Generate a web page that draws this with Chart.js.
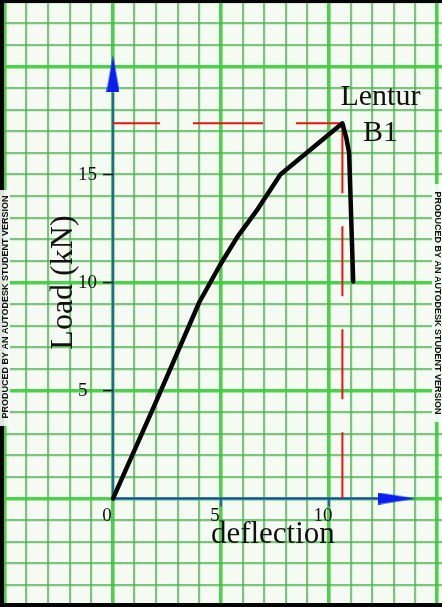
<!DOCTYPE html>
<html>
<head>
<meta charset="utf-8">
<script src="https://cdn.jsdelivr.net/npm/chart.js@4/dist/chart.umd.min.js"></script>
<style>
  html, body { margin: 0; padding: 0; background: #ffffff; overflow: hidden; }
  canvas { display: block; }
</style>
</head>
<body>
<canvas id="chart" width="442" height="607"></canvas>
<script>
// Load–deflection record of beam B1 in flexure
const deflection = [0, 2.0, 4.0, 4.95, 5.75, 6.7, 7.75, 10.62, 10.8, 10.93, 11.12];
const load       = [0, 4.5, 9.1, 10.8, 12.1, 13.4, 15.0, 17.37, 16.7, 16.0, 10.05];

// Labelled ticks
const xTickLabels = [0, 5, 10];
const yTickLabels = [5, 10, 15];

// Visible extent of the graph paper, in data units
const xPaper = [-5.23, 15.23];
const yPaper = [-5.02, 23.08];

// Heavier printed lines of the graph paper
const heavyColumns = [-5, 0, 5, 10, 15];
const heavyRows = [0, 5, 10, 20];

// Where the drawn axes stop and their arrowheads sit
const xAxisEnd = 12.27, xArrowAt = 13.15;
const yAxisEnd = 18.8,  yArrowAt = 19.68;

// Peak of the curve, marked by the red guide lines
const peakIndex = load.indexOf(Math.max(...load));
const peakDeflection = deflection[peakIndex];
const peakLoad = load[peakIndex];

const curve = deflection.map((d, i) => ({ x: d, y: load[i] }));

function arrowHead(w, h, dir) {
  const c = document.createElement('canvas');
  c.width = w; c.height = h;
  const g = c.getContext('2d');
  g.fillStyle = '#0b1ef0';
  g.beginPath();
  if (dir === 'up') { g.moveTo(w / 2, 0); g.lineTo(w, h); g.lineTo(0, h); }
  else { g.moveTo(w, h / 2); g.lineTo(0, 0); g.lineTo(0, h); }
  g.closePath();
  g.fill();
  return c;
}

function integerTicks(scale) {
  const ticks = [];
  for (let v = Math.ceil(scale.min); v <= Math.floor(scale.max); v++) ticks.push({ value: v });
  scale.ticks = ticks;
}
const paperLine = heavy => ({
  color: ctx => (ctx.tick && heavy.includes(ctx.tick.value)) ? 'rgba(62,204,62,0.92)' : 'rgba(78,176,78,0.72)',
  lineWidth: ctx => (ctx.tick && heavy.includes(ctx.tick.value)) ? 3.6 : 2.2,
  drawTicks: false
});

const paper = {
  id: 'paper',
  beforeDraw(chart) {
    const { ctx, width, height } = chart;
    ctx.save();
    ctx.fillStyle = '#f5fbf3';
    ctx.fillRect(0, 0, width, height);
    ctx.restore();
  },
  afterDraw(chart) {
    const { ctx, width, height } = chart;
    const xs = chart.scales.x, ys = chart.scales.y;
    const x0 = xs.getPixelForValue(0), y0 = ys.getPixelForValue(0);
    ctx.save();

    // tick marks
    ctx.lineWidth = 1.5;
    ctx.strokeStyle = '#111';
    yTickLabels.forEach(v => {
      const y = ys.getPixelForValue(v);
      ctx.beginPath(); ctx.moveTo(x0 - 10, y); ctx.lineTo(x0, y); ctx.stroke();
    });
    ctx.strokeStyle = '#1d3fc0';
    xTickLabels.filter(v => v !== 0).forEach(v => {
      const x = xs.getPixelForValue(v);
      ctx.beginPath(); ctx.moveTo(x, y0); ctx.lineTo(x, y0 + 8); ctx.stroke();
    });

    // tick labels
    ctx.fillStyle = '#111';
    ctx.font = '19px "Liberation Serif", "Times New Roman", serif';
    ctx.textBaseline = 'middle';
    ctx.textAlign = 'left';
    yTickLabels.forEach(v => ctx.fillText(String(v), x0 - 35, ys.getPixelForValue(v)));
    ctx.textAlign = 'center';
    xTickLabels.forEach(v => ctx.fillText(String(v), xs.getPixelForValue(v) - 6, y0 + 17));

    // axis titles
    ctx.textBaseline = 'alphabetic';
    ctx.font = '31px "Liberation Serif", "Times New Roman", serif';
    ctx.fillText('deflection', xs.getPixelForValue(7.4), y0 + 44);
    ctx.save();
    ctx.translate(x0 - 41, ys.getPixelForValue(10));
    ctx.rotate(-Math.PI / 2);
    ctx.font = '32px "Liberation Serif", "Times New Roman", serif';
    ctx.fillText('Load (kN)', 0, 0);
    ctx.restore();

    // curve label beside the peak
    const px = xs.getPixelForValue(peakDeflection), py = ys.getPixelForValue(peakLoad);
    ctx.font = '30px "Liberation Serif", "Times New Roman", serif';
    ctx.fillText('Lentur', px + 38, py - 18);
    ctx.fillText('B1', px + 38, py + 18);

    // frame
    ctx.fillStyle = '#050505';
    ctx.fillRect(0, 0, width, 3);
    ctx.fillRect(0, 0, 4, height);
    ctx.fillRect(0, height - 4, width, 4);

    // plot stamps along both edges
    const stamp = 'PRODUCED BY AN AUTODESK STUDENT VERSION';
    ctx.font = 'bold 9px "Liberation Sans", Arial, sans-serif';
    ctx.textAlign = 'center';
    ctx.textBaseline = 'middle';
    ctx.fillStyle = 'rgba(250,253,249,0.9)';
    ctx.fillRect(0, 190, 10, 236);
    ctx.fillRect(432, 184, 10, 238);
    ctx.fillStyle = '#111';
    ctx.save();
    ctx.translate(5.5, 307);
    ctx.rotate(-Math.PI / 2);
    ctx.fillText(stamp, 0, 0, 232);
    ctx.restore();
    ctx.save();
    ctx.translate(437, 303);
    ctx.rotate(Math.PI / 2);
    ctx.fillText(stamp, 0, 0, 234);
    ctx.restore();

    ctx.restore();
  }
};

new Chart(document.getElementById('chart'), {
  type: 'scatter',
  data: {
    datasets: [
      {
        label: 'Lentur B1',
        data: curve,
        showLine: true,
        borderColor: '#050505',
        borderWidth: 4.5,
        borderCapStyle: 'round',
        borderJoinStyle: 'round',
        tension: 0,
        pointRadius: 0,
        order: 0
      },
      {
        data: [{ x: 0, y: peakLoad }, { x: peakDeflection, y: peakLoad }],
        showLine: true,
        borderColor: '#e8140f',
        borderWidth: 2,
        borderDash: [70, 33],
        borderDashOffset: 23,
        pointRadius: 0,
        order: 1
      },
      {
        data: [{ x: peakDeflection, y: peakLoad }, { x: peakDeflection, y: 0 }],
        showLine: true,
        borderColor: '#e8140f',
        borderWidth: 2,
        borderDash: [70, 33],
        pointRadius: 0,
        order: 1
      },
      {
        data: [{ x: 0, y: 0 }, { x: xAxisEnd, y: 0 }],
        showLine: true,
        borderColor: '#1d3fc0',
        borderWidth: 2,
        pointRadius: 0,
        order: 2
      },
      {
        data: [{ x: 0, y: 0 }, { x: 0, y: yAxisEnd }],
        showLine: true,
        borderColor: '#1d3fc0',
        borderWidth: 1.5,
        pointRadius: 0,
        order: 2
      },
      {
        data: [{ x: xArrowAt, y: 0 }],
        pointStyle: arrowHead(38, 12, 'right'),
        pointRadius: 5,
        order: 2
      },
      {
        data: [{ x: 0, y: yArrowAt }],
        pointStyle: arrowHead(13, 37, 'up'),
        pointRadius: 5,
        order: 2
      }
    ]
  },
  options: {
    responsive: false,
    animation: false,
    devicePixelRatio: 1,
    events: [],
    layout: { padding: 0, autoPadding: false },
    plugins: { legend: { display: false }, tooltip: { enabled: false } },
    scales: {
      x: {
        type: 'linear',
        min: xPaper[0], max: xPaper[1],
        afterBuildTicks: integerTicks,
        grid: paperLine(heavyColumns),
        border: { display: false },
        ticks: { display: false }
      },
      y: {
        type: 'linear',
        min: yPaper[0], max: yPaper[1],
        afterBuildTicks: integerTicks,
        grid: paperLine(heavyRows),
        border: { display: false },
        ticks: { display: false }
      }
    }
  },
  plugins: [paper]
});
</script>
</body>
</html>
